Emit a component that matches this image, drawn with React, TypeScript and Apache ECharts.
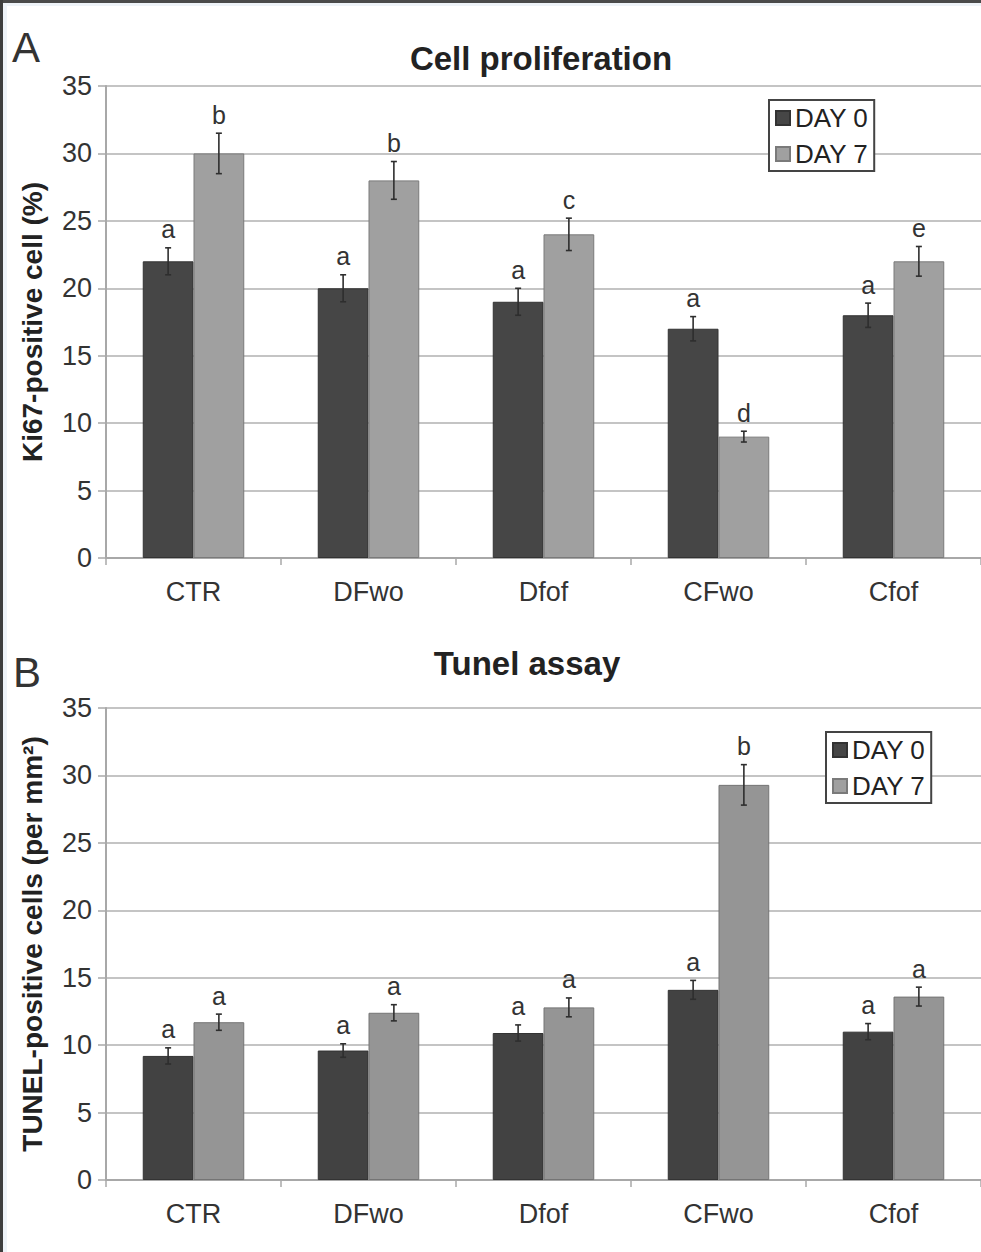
import React, { useEffect, useRef } from "react";
import * as echarts from "echarts";

const categories = ["CTR", "DFwo", "Dfof", "CFwo", "Cfof"];
const seriesNames = ["DAY 0", "DAY 7"];
const yMin = 0;
const yMax = 35;
const yInterval = 5;

const prolifDay0 = [22, 20, 19, 17, 18];
const prolifDay7 = [30, 28, 24, 9, 22];
const prolifErr0 = [1.0, 1.0, 1.0, 0.9, 0.9];
const prolifErr7 = [1.5, 1.4, 1.2, 0.4, 1.1];
const prolifLetters0 = ["a", "a", "a", "a", "a"];
const prolifLetters7 = ["b", "b", "c", "d", "e"];

const tunelDay0 = [9.2, 9.6, 10.9, 14.1, 11.0];
const tunelDay7 = [11.7, 12.4, 12.8, 29.3, 13.6];
const tunelErr0 = [0.6, 0.5, 0.6, 0.7, 0.6];
const tunelErr7 = [0.6, 0.6, 0.7, 1.5, 0.7];
const tunelLetters0 = ["a", "a", "a", "a", "a"];
const tunelLetters7 = ["a", "a", "a", "b", "a"];

const FONT = "'Liberation Sans', Arial, Helvetica, sans-serif";
const GAP_RATIO = 0.42;

function errorSeries(
  gridIdx: number,
  side: number,
  values: number[],
  errs: number[],
  letters: string[]
) {
  return {
    type: "custom",
    xAxisIndex: gridIdx,
    yAxisIndex: gridIdx,
    z: 10,
    silent: true,
    encode: { x: 0, y: 1 },
    data: values.map((v, i) => [i, v, errs[i]]),
    renderItem: (params: any, api: any) => {
      const cat = api.value(0);
      const v = api.value(1);
      const e = api.value(2);
      const top = api.coord([cat, v + e]);
      const bot = api.coord([cat, v - e]);
      const catW = api.size([1, 0])[0];
      const bw = (catW * (1 - GAP_RATIO)) / 2;
      const x = top[0] + (side * bw) / 2;
      const cap = 3;
      const st = { stroke: "#2e2e2e", lineWidth: 1.6 };
      return {
        type: "group",
        children: [
          { type: "line", shape: { x1: x, y1: top[1], x2: x, y2: bot[1] }, style: st },
          { type: "line", shape: { x1: x - cap, y1: top[1], x2: x + cap, y2: top[1] }, style: st },
          { type: "line", shape: { x1: x - cap, y1: bot[1], x2: x + cap, y2: bot[1] }, style: st },
          {
            type: "text",
            x: x,
            y: top[1] - 6,
            style: {
              text: letters[params.dataIndex],
              fill: "#333",
              font: `25px ${FONT}`,
              textAlign: "center",
              textVerticalAlign: "bottom",
            },
          },
        ],
      };
    },
  };
}

function barSeries(gridIdx: number, name: string, values: number[], color: string, border: string) {
  return {
    type: "bar",
    name,
    xAxisIndex: gridIdx,
    yAxisIndex: gridIdx,
    data: values,
    barGap: "0%",
    barCategoryGap: `${GAP_RATIO * 100}%`,
    itemStyle: { color, borderColor: border, borderWidth: 1 },
  };
}

function xAxis(gridIdx: number) {
  return {
    type: "category",
    gridIndex: gridIdx,
    data: categories,
    axisLine: { show: true, lineStyle: { color: "#a8a8a8", width: 2 } },
    axisTick: { show: true, length: 7, lineStyle: { color: "#a8a8a8", width: 1.5 } },
    axisLabel: { color: "#333", fontSize: 27, fontFamily: FONT, margin: 20 },
  };
}

function yAxis(gridIdx: number, name: string) {
  return {
    type: "value",
    gridIndex: gridIdx,
    min: yMin,
    max: yMax,
    interval: yInterval,
    name,
    nameLocation: "middle",
    nameRotate: 90,
    nameGap: 60,
    nameTextStyle: { color: "#222", fontSize: 28, fontWeight: "bold", fontFamily: FONT },
    axisLine: { show: true, lineStyle: { color: "#a8a8a8", width: 2 } },
    axisTick: { show: true, length: 8, lineStyle: { color: "#a8a8a8", width: 1.5 } },
    axisLabel: { color: "#333", fontSize: 27, fontFamily: FONT, margin: 14 },
    splitLine: { show: true, lineStyle: { color: "#c4c4c4", width: 2 } },
  };
}

function legend(left: number, top: number) {
  return {
    orient: "vertical",
    left,
    top,
    data: seriesNames,
    icon: "rect",
    itemWidth: 14,
    itemHeight: 14,
    itemGap: 10,
    padding: [5, 6, 4, 6],
    borderColor: "#444",
    borderWidth: 2,
    backgroundColor: "#fff",
    textStyle: { color: "#222", fontSize: 26, fontFamily: FONT, lineHeight: 26 },
  };
}

export default function App() {
  const ref = useRef<HTMLDivElement>(null);

  useEffect(() => {
    if (!ref.current) return;
    const chart = echarts.init(ref.current, null, { renderer: "svg" });
    const option: any = {
      animation: false,
      backgroundColor: "#ffffff",
      color: ["#454545", "#a0a0a0"],
      grid: [
        { left: 106, right: 0, top: 86, bottom: 694 },
        { left: 106, right: 0, top: 708, bottom: 72 },
      ],
      xAxis: [xAxis(0), xAxis(1)],
      yAxis: [yAxis(0, "Ki67-positive cell (%)"), yAxis(1, "TUNEL-positive cells (per mm²)")],
      legend: [legend(769, 100), legend(826, 732)],
      series: [
        barSeries(0, seriesNames[0], prolifDay0, "#464646", "#333"),
        barSeries(0, seriesNames[1], prolifDay7, "#a0a0a0", "#7a7a7a"),
        barSeries(1, seriesNames[0], tunelDay0, "#424242", "#333"),
        barSeries(1, seriesNames[1], tunelDay7, "#959595", "#747474"),
        errorSeries(0, -1, prolifDay0, prolifErr0, prolifLetters0),
        errorSeries(0, 1, prolifDay7, prolifErr7, prolifLetters7),
        errorSeries(1, -1, tunelDay0, tunelErr0, tunelLetters0),
        errorSeries(1, 1, tunelDay7, tunelErr7, tunelLetters7),
      ],
      graphic: [
        { type: "rect", left: 0, top: 0, shape: { width: 981, height: 3 }, style: { fill: "#4a4a4a" } },
        { type: "rect", left: 0, top: 0, shape: { width: 3, height: 1252 }, style: { fill: "#3e3e3e" } },
        { type: "rect", left: 3, top: 3, shape: { width: 4, height: 1249 }, style: { fill: "#eef3f8" } },
        { type: "rect", left: 3, top: 3, shape: { width: 978, height: 3 }, style: { fill: "#eef3f8" } },
        {
          type: "text",
          x: 12,
          y: 47,
          style: { text: "A", fill: "#333", font: `42px ${FONT}`, textVerticalAlign: "middle" },
        },
        {
          type: "text",
          x: 13,
          y: 672,
          style: { text: "B", fill: "#333", font: `42px ${FONT}`, textVerticalAlign: "middle" },
        },
        {
          type: "text",
          x: 541,
          y: 58,
          style: {
            text: "Cell proliferation",
            fill: "#222",
            font: `bold 33px ${FONT}`,
            textAlign: "center",
            textVerticalAlign: "middle",
          },
        },
        {
          type: "text",
          x: 527,
          y: 663,
          style: {
            text: "Tunel assay",
            fill: "#222",
            font: `bold 33px ${FONT}`,
            textAlign: "center",
            textVerticalAlign: "middle",
          },
        },
      ],
    };
    chart.setOption(option);
    return () => chart.dispose();
  }, []);

  return (
    <div
      ref={ref}
      style={{ position: "fixed", left: 0, top: 0, width: 981, height: 1252, background: "#fff" }}
    />
  );
}
